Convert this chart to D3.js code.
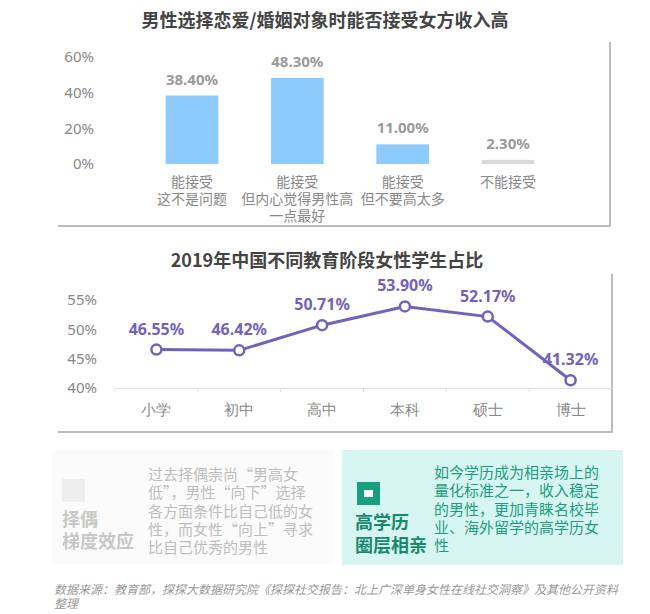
<!DOCTYPE html>
<html><head><meta charset="utf-8">
<script src="https://cdn.jsdelivr.net/npm/d3@7"></script>
<style>body{margin:0;background:#fff}svg{font-family:"Noto Sans CJK SC","Noto Sans",sans-serif}</style>
</head><body><svg id="c" width="650" height="614"></svg>
<script>
const cats1 = [["能接受","这不是问题"],["能接受","但内心觉得男性高","一点最好"],["能接受","但不要高太多"],["不能接受"]];
const vals1 = [38.4, 48.3, 11.0, 2.3];
const ticks1 = [0, 20, 40, 60];
const cats2 = ["小学","初中","高中","本科","硕士","博士"];
const vals2 = [46.55, 46.42, 50.71, 53.90, 52.17, 41.32];
const ticks2 = [40, 45, 50, 55];

const svg = d3.select("#c");

svg.append("path").attr("d","M58,226H610V42").attr("fill","none").attr("stroke","#bbb").attr("stroke-width",2);
svg.append("path").attr("d","M58,432H612V274").attr("fill","none").attr("stroke","#bbb").attr("stroke-width",2);

svg.append("text").attr("x",325).attr("y",27).attr("text-anchor","middle").attr("font-size",18).attr("font-weight","bold").attr("fill","#444").text("男性选择恋爱/婚姻对象时能否接受女方收入高");
svg.append("text").attr("x",327).attr("y",267).attr("text-anchor","middle").attr("font-size",18).attr("font-weight","bold").attr("fill","#444").text("2019年中国不同教育阶段女性学生占比");

// chart 1
const x1 = d3.scaleBand().domain(d3.range(vals1.length)).range([113,587]).padding(0.5);
const y1 = d3.scaleLinear().domain([0,60]).range([164,57]);
const ya1 = svg.append("g").attr("transform","translate(97,0)").call(d3.axisLeft(y1).tickValues(ticks1).tickFormat(d=>d+"%").tickSize(0));
ya1.select(".domain").remove();
ya1.selectAll("text").attr("font-size",15).attr("fill","#888").attr("font-family","'Noto Sans',sans-serif");
svg.selectAll(".b1").data(vals1).enter().append("rect")
 .attr("x",(d,i)=>x1(i)).attr("width",x1.bandwidth())
 .attr("y",d=>y1(d)).attr("height",d=>164-y1(d))
 .attr("fill",(d,i)=>i===3?"#d9d9d9":"#8ccbfb");
svg.selectAll(".v1").data(vals1).enter().append("text")
 .attr("x",(d,i)=>x1(i)+x1.bandwidth()/2).attr("y",d=>y1(d)-11)
 .attr("text-anchor","middle").attr("font-size",15).attr("font-weight","bold").attr("fill","#9a9a9a")
 .attr("font-family","'Noto Sans',sans-serif").text(d=>d.toFixed(2)+"%");
cats1.forEach((lines,i)=>lines.forEach((t,j)=>svg.append("text")
 .attr("x",x1(i)+x1.bandwidth()/2).attr("y",187+j*17).attr("text-anchor","middle")
 .attr("font-size",14).attr("fill","#888").text(t)));

// chart 2
const x2 = d3.scaleBand().domain(cats2).range([115,612]);
const y2 = d3.scaleLinear().domain([40,55]).range([388,300]);
const ya2 = svg.append("g").attr("transform","translate(100,0)").call(d3.axisLeft(y2).tickValues(ticks2).tickFormat(d=>d+"%").tickSize(0));
ya2.select(".domain").remove();
ya2.selectAll("text").attr("font-size",15).attr("fill","#888").attr("font-family","'Noto Sans',sans-serif");
const xa2 = svg.append("g").attr("transform","translate(0,388)").call(d3.axisBottom(x2).tickSize(4).tickSizeOuter(0));
xa2.select(".domain").attr("stroke","#ddd");
xa2.selectAll("line").attr("stroke","#ddd").attr("transform",`translate(${-x2.bandwidth()/2},0)`);
xa2.selectAll("text").attr("font-size",15).attr("fill","#888").attr("dy","1.35em");
const cx = d=>x2(d)+x2.bandwidth()/2;
svg.append("path").datum(vals2).attr("fill","none").attr("stroke","#7262be").attr("stroke-width",3)
 .attr("d",d3.line().x((d,i)=>cx(cats2[i])).y(d=>y2(d)));
svg.selectAll(".p2").data(vals2).enter().append("circle").attr("cx",(d,i)=>cx(cats2[i])).attr("cy",d=>y2(d))
 .attr("r",5).attr("fill","#fff").attr("stroke","#7262be").attr("stroke-width",2.5);
svg.selectAll(".v2").data(vals2).enter().append("text").attr("x",(d,i)=>cx(cats2[i])).attr("y",d=>y2(d)-15)
 .attr("text-anchor","middle").attr("font-size",16).attr("font-weight","bold").attr("fill","#7262be")
 .attr("font-family","'Noto Sans',sans-serif").text(d=>d.toFixed(2)+"%");

// bottom boxes
svg.append("rect").attr("x",52).attr("y",450).attr("width",281).attr("height",114).attr("fill","#fbfbfb");
svg.append("rect").attr("x",342).attr("y",450).attr("width",281).attr("height",115).attr("fill","#d8f6f1");
svg.append("rect").attr("x",62).attr("y",479).attr("width",23).attr("height",23).attr("fill","#eeeeee");
svg.append("rect").attr("x",357).attr("y",482).attr("width",23).attr("height",23).attr("fill","#1a9e80");
svg.append("rect").attr("x",364).attr("y",490).attr("width",9).attr("height",7).attr("fill","#fff");
[["择偶",526],["梯度效应",548]].forEach(([t,y])=>svg.append("text").attr("x",62).attr("y",y).attr("font-size",18).attr("font-weight","bold").attr("fill","#c8c8c8").text(t));
[["高学历",529],["圈层相亲",552]].forEach(([t,y])=>svg.append("text").attr("x",355).attr("y",y).attr("font-size",18).attr("font-weight","bold").attr("fill","#178a6c").text(t));
["过去择偶崇尚“男高女","低”，男性“向下”选择","各方面条件比自己低的女","性，而女性“向上”寻求","比自己优秀的男性"].forEach((t,i)=>svg.append("text").attr("x",148).attr("y",480+i*18.3).attr("font-size",15).attr("fill","#bdbdbd").text(t));
["如今学历成为相亲场上的","量化标准之一，收入稳定","的男性，更加青睐名校毕","业、海外留学的高学历女","性"].forEach((t,i)=>svg.append("text").attr("x",434).attr("y",478+i*18.3).attr("font-size",15).attr("fill","#1a9e80").text(t));
["数据来源：教育部，探探大数据研究院《探探社交报告：北上广深单身女性在线社交洞察》及其他公开资料","整理"].forEach((t,i)=>svg.append("text").attr("x",54).attr("y",594+i*14).attr("font-size",12).attr("font-style","italic").attr("fill","#999").text(t));
</script></body></html>
